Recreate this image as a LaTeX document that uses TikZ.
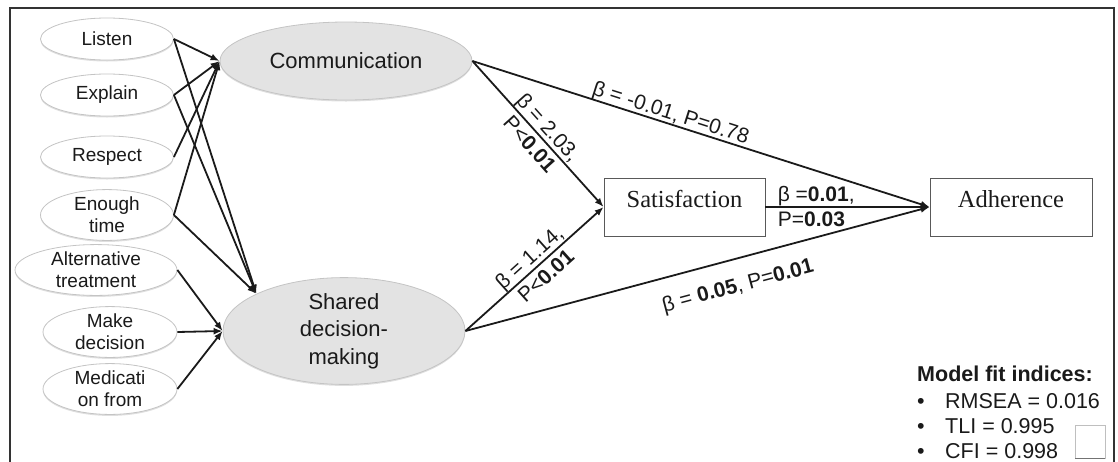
\documentclass[tikz,border=0pt]{standalone}
\usepackage{fontspec}
\setmainfont{Liberation Sans}
\newfontfamily\serifbox{Liberation Serif}
\usetikzlibrary{arrows.meta,shapes.geometric,shadows}
\definecolor{txt}{HTML}{1A1A1A}
\definecolor{ellborder}{HTML}{C4C4C4}
\definecolor{bigfill}{HTML}{E3E3E3}
\begin{document}
\begin{tikzpicture}[x=1pt,y=-1pt,
  smallell/.style={ellipse, draw=ellborder, fill=white, line width=0.8pt, inner sep=0pt,
    minimum width=133pt, minimum height=42pt, align=center, text=txt,
    font=\fontsize{19}{22}\selectfont,
    drop shadow={shadow xshift=0pt, shadow yshift=-1.5pt, opacity=0.25}},
  bigell/.style={ellipse, draw=ellborder, fill=bigfill, line width=0.8pt, inner sep=0pt,
    align=center, text=txt, font=\fontsize{22}{27.5}\selectfont,
    drop shadow={shadow xshift=0pt, shadow yshift=-1.5pt, opacity=0.25}},
  resbox/.style={rectangle, draw=black!65, line width=0.8pt, minimum width=161pt,
    minimum height=58pt, inner sep=0pt, text=txt, text height=14pt, text depth=14pt,
    font=\serifbox\fontsize{24.5}{28}\selectfont},
  arr/.style={line width=1.8pt, draw=txt, -{Latex[length=9pt,width=7pt]}},
  lbl/.style={font=\fontsize{21}{25}\selectfont, inner sep=0pt, text=txt},
  fit/.style={anchor=west, inner sep=0pt, text=txt, font=\fontsize{21.5}{25}\selectfont}
]
\useasboundingbox (0,0) rectangle (1118,461);
% frame
\draw[line width=2pt, draw=black!80] (10,8) rectangle (1114,480);

% indicator ellipses
\node[smallell] (listen) at (107,39) {Listen};
\node[smallell] (explain) at (107,95) {Explain};
\node[smallell] (respect) at (107,157) {Respect};
\node[smallell, minimum height=44pt] (time) at (107,215) {Enough\\time};
\node[smallell, minimum width=162pt, minimum height=44pt] (alt) at (96,270) {Alternative\\treatment};
\node[smallell, minimum width=134pt, minimum height=44pt] (make) at (110,332) {Make\\decision};
\node[smallell, minimum width=134pt, minimum height=44pt] (med) at (110,389) {Medicati\\on from};

% latent ellipses
\node[bigell, minimum width=252pt, minimum height=78pt] (comm) at (346,61) {Communication};
\node[bigell, minimum width=242pt, minimum height=95pt] (sdm) at (344,331) {Shared\\decision-\\making};

% outcome boxes
\node[resbox] (sat) at (684.5,207) {Satisfaction};
\node[resbox, minimum width=162pt] (adh) at (1011,207) {Adherence};

% measurement arrows
\draw[arr] (listen.east) -- (comm.west);
\draw[arr] (explain.east) -- (comm.west);
\draw[arr] (respect.east) -- (comm.west);
\draw[arr] (time.east) -- (comm.west);
\draw[arr] (listen.east) -- (sdm.157);
\draw[arr] (explain.east) -- (sdm.157);
\draw[arr] (time.east) -- (sdm.157);
\draw[arr] (alt.east) -- (sdm.west);
\draw[arr] (make.east) -- (sdm.west);
\draw[arr] (med.east) -- (sdm.west);

% structural arrows
\draw[arr] (comm.east) -- (adh.west)
  node[lbl, sloped, pos=0.427, above=-1pt] (l1) {β = -0.01, P=0.78};
\draw[arr] (comm.east) -- (sat.west)
  node[lbl, sloped, pos=0.51, align=center, font=\fontsize{21}{25}\selectfont] (l2) {β = 2.03,\\P<\textbf{0.01}};
\draw[arr] (sdm.east) -- (sat.west)
  node[lbl, sloped, pos=0.52, align=center, font=\fontsize{21}{25}\selectfont] (l3) {β = 1.14,\\P<\textbf{0.01}};
\draw[arr] (sat.east) -- (adh.west)
  node[lbl, pos=0.07, anchor=west, align=left, font=\fontsize{21}{25}\selectfont] (l4) {β =\textbf{0.01},\\P=\textbf{0.03}};
\draw[arr] (sdm.east) -- (adh.west)
  node[lbl, sloped, pos=0.572, below=17pt] (l5) {β = \textbf{0.05}, P=\textbf{0.01}};

% model fit
\node[fit, font=\bfseries\fontsize{21.5}{25}\selectfont] (fit0) at (917,374) {Model fit indices:};
\node[fit] (fit1) at (917,401) {\makebox[28pt][l]{•}RMSEA = 0.016};
\node[fit] (fit2) at (917,426) {\makebox[28pt][l]{•}TLI = 0.995};
\node[fit] (fit3) at (917,451) {\makebox[28pt][l]{•}CFI = 0.998};

% small empty box
\draw[draw=black!25, line width=0.8pt] (1075,425) rectangle (1105,458);
\draw[draw=black!55, line width=1pt] (1075,458) -- (1105,458);
\end{tikzpicture}
\end{document}
